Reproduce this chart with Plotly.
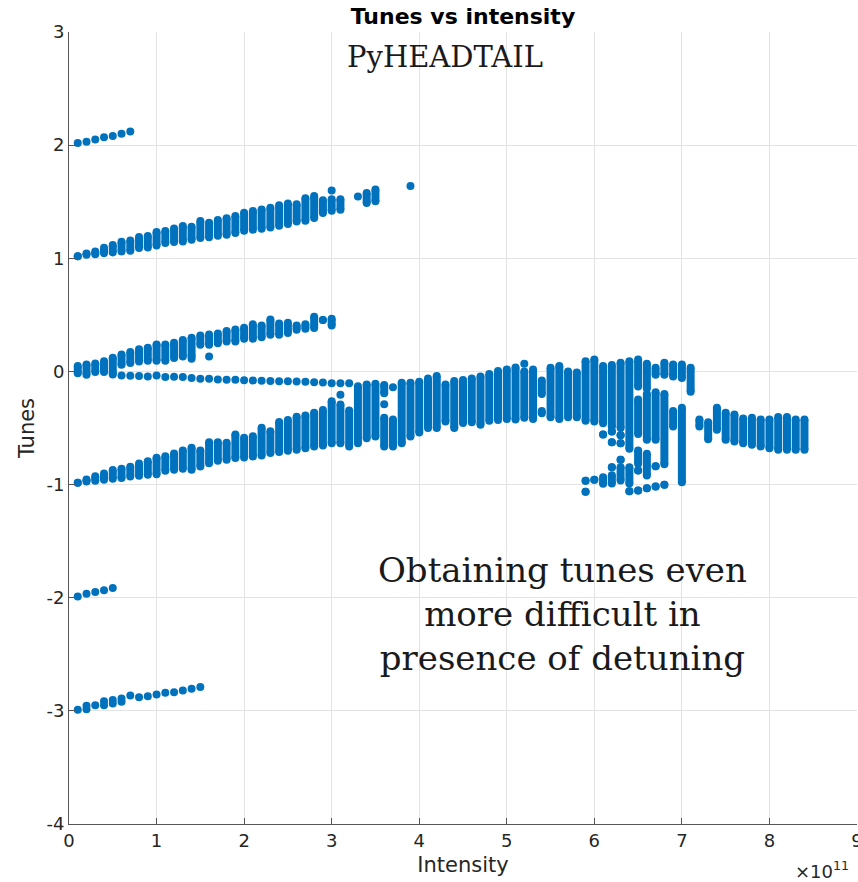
import plotly.graph_objects as go

# Intensity in units of 1e11 protons, tunes in units of the synchrotron tune
# --- Single-line branches (one tune per intensity) ---
I_p2 = [0.1, 0.2, 0.3, 0.4, 0.5, 0.6, 0.7]
Q_p2 = [2.02, 2.03, 2.05, 2.07, 2.08, 2.10, 2.12]

I_m2 = [0.1, 0.2, 0.3, 0.4, 0.5]
Q_m2 = [-1.99, -1.965, -1.95, -1.935, -1.915]

I_m3 = [0.1, 0.2, 0.2, 0.3, 0.4, 0.4, 0.5, 0.5, 0.6, 0.6, 0.7, 0.8, 0.9, 1.0, 1.1, 1.2, 1.3, 1.4, 1.5]
Q_m3 = [-2.99, -2.985, -2.955, -2.95, -2.95, -2.915, -2.935, -2.905, -2.92, -2.89,
        -2.865, -2.88, -2.87, -2.856, -2.84, -2.835, -2.82, -2.805, -2.79]

# slowly falling line just below 0
I_d = [0.5, 0.6, 0.7, 0.8, 0.9, 1.0, 1.1, 1.2, 1.3, 1.4, 1.5, 1.6, 1.7, 1.8,
       1.9, 2.0, 2.1, 2.2, 2.3, 2.4, 2.5, 2.6, 2.7, 2.8, 2.9, 3.0, 3.1, 3.2]
Q_d = [-0.027, -0.035, -0.038, -0.040, -0.044, -0.035, -0.050, -0.047, -0.050, -0.059,
       -0.065, -0.065, -0.071, -0.074, -0.074, -0.077, -0.080, -0.083, -0.085, -0.086,
       -0.086, -0.089, -0.092, -0.095, -0.098, -0.104, -0.104, -0.104]

# --- Spread branches: lowest and highest tune found at each intensity ---
I_b1 = [0.1, 0.2, 0.3, 0.4, 0.5, 0.6, 0.7, 0.8, 0.9, 1.0, 1.1, 1.2, 1.3, 1.4, 1.5, 1.6,
        1.7, 1.8, 1.9, 2.0, 2.1, 2.2, 2.3, 2.4, 2.5, 2.6, 2.7, 2.8, 2.9, 3.0, 3.1, 3.4, 3.5]
lo_b1 = [1.017, 1.032, 1.035, 1.046, 1.052, 1.061, 1.067, 1.090, 1.096, 1.114, 1.135,
         1.144, 1.149, 1.164, 1.179, 1.185, 1.200, 1.209, 1.223, 1.244, 1.253, 1.262,
         1.273, 1.288, 1.303, 1.326, 1.332, 1.356, 1.400, 1.421, 1.430, 1.488, 1.503]
hi_b1 = [1.017, 1.043, 1.061, 1.094, 1.117, 1.147, 1.158, 1.188, 1.196, 1.232, 1.241,
         1.264, 1.285, 1.279, 1.329, 1.315, 1.338, 1.353, 1.373, 1.403, 1.418, 1.432,
         1.447, 1.468, 1.485, 1.477, 1.530, 1.550, 1.512, 1.521, 1.521, 1.576, 1.607]

I_b0 = [0.1, 0.2, 0.3, 0.4, 0.5, 0.6, 0.7, 0.8, 0.9, 1.0, 1.1, 1.2, 1.3, 1.4, 1.5,
        1.6, 1.7, 1.8, 1.9, 2.0, 2.1, 2.2, 2.3, 2.4, 2.5, 2.6, 2.7, 2.8, 2.9, 3.0]
lo_b0 = [-0.015, -0.029, -0.006, -0.006, -0.015, 0.059, 0.074, 0.088, 0.094, 0.094,
         0.094, 0.118, 0.133, 0.133, 0.236, 0.236, 0.250, 0.265, 0.265, 0.289, 0.289,
         0.301, 0.324, 0.324, 0.339, 0.369, 0.377, 0.383, 0.454, 0.407]
hi_b0 = [0.047, 0.062, 0.071, 0.091, 0.121, 0.150, 0.171, 0.195, 0.210, 0.239, 0.239,
         0.253, 0.277, 0.298, 0.318, 0.327, 0.336, 0.357, 0.371, 0.386, 0.416, 0.407,
         0.460, 0.424, 0.430, 0.407, 0.416, 0.484, 0.454, 0.466]

I_m1 = [0.1, 0.2, 0.3, 0.4, 0.5, 0.6, 0.7, 0.8, 0.9, 1.0, 1.1, 1.2, 1.3, 1.4, 1.5,
        1.6, 1.7, 1.8, 1.9, 2.0, 2.1, 2.2, 2.3, 2.4, 2.5, 2.6, 2.7, 2.8, 2.9, 3.0,
        3.1, 3.2, 3.3, 3.4, 3.5, 3.6, 3.6, 3.7, 3.8, 3.9, 4.0, 4.1, 4.2, 4.3, 4.4,
        4.5, 4.6, 4.7, 4.8, 4.9, 5.0, 5.1, 5.2, 5.3, 5.4, 5.4, 5.5, 5.6, 5.7, 5.8,
        5.9, 6.0, 6.1, 6.2, 6.3, 6.4, 6.5, 6.5, 6.6, 6.6, 6.7, 6.7, 6.8, 6.8, 6.9,
        6.9, 7.0, 7.0, 7.1, 7.2, 7.3, 7.4, 7.5, 7.6, 7.7, 7.8, 7.9, 8.0, 8.1, 8.2,
        8.3, 8.4]
lo_m1 = [-0.984, -0.973, -0.966, -0.958, -0.949, -0.943, -0.928, -0.922, -0.913, -0.908,
         -0.878, -0.869, -0.860, -0.869, -0.840, -0.811, -0.790, -0.781, -0.766, -0.760,
         -0.752, -0.743, -0.722, -0.713, -0.701, -0.692, -0.678, -0.663, -0.654, -0.634,
         -0.634, -0.663, -0.634, -0.590, -0.575, -0.192, -0.663, -0.663, -0.634, -0.575,
         -0.540, -0.500, -0.500, -0.442, -0.500, -0.455, -0.450, -0.472, -0.435, -0.430,
         -0.420, -0.425, -0.410, -0.420, -0.200, -0.370, -0.405, -0.420, -0.405, -0.405,
         -0.435, -0.442, -0.457, -0.490, -0.500, -0.684, -0.133, -0.554, -0.150, -0.604,
         -0.030, -0.604, -0.030, -0.820, -0.045, -0.486, -0.059, -0.979, -0.180, -0.486,
         -0.600, -0.516, -0.604, -0.619, -0.634, -0.648, -0.663, -0.678, -0.693, -0.693,
         -0.693, -0.693]
hi_m1 = [-0.984, -0.955, -0.926, -0.902, -0.872, -0.860, -0.843, -0.813, -0.793, -0.763,
         -0.749, -0.725, -0.698, -0.675, -0.698, -0.625, -0.625, -0.631, -0.557, -0.586,
         -0.572, -0.498, -0.528, -0.448, -0.430, -0.401, -0.389, -0.365, -0.342, -0.263,
         -0.292, -0.345, -0.130, -0.115, -0.109, -0.121, -0.410, -0.424, -0.100, -0.100,
         -0.091, -0.062, -0.041, -0.115, -0.085, -0.075, -0.062, -0.045, -0.022, 0.003,
         0.018, 0.035, 0.000, 0.018, -0.080, -0.350, 0.032, 0.047, 0.000, -0.010,
         0.091, 0.106, 0.047, 0.056, 0.077, 0.091, 0.106, -0.248, 0.068, -0.200,
         0.032, -0.185, 0.077, -0.200, 0.062, -0.350, 0.062, -0.320, 0.032, -0.424,
         -0.450, -0.320, -0.365, -0.380, -0.416, -0.410, -0.424, -0.424, -0.403, -0.403,
         -0.424, -0.424]

# detached group near -1 at high intensity
I_low = [5.9, 5.9, 6.0, 6.1, 6.1, 6.2, 6.2, 6.2, 6.2, 6.3, 6.3, 6.3, 6.3,
         6.4, 6.4, 6.5, 6.5, 6.5, 6.6, 6.6, 6.7, 6.7, 6.8]
lo_low = [-1.064, -0.967, -0.958, -0.993, -0.557, -0.990, -0.846, -0.625, -0.530,
          -0.963, -0.781, -0.635, -0.565, -0.990, -1.058, -0.816, -0.875, -1.052,
          -0.920, -1.032, -0.837, -1.017, -1.002]
hi_low = [-1.064, -0.967, -0.958, -0.935, -0.557, -0.917, -0.846, -0.625, -0.530,
          -0.846, -0.781, -0.635, -0.565, -0.846, -1.058, -0.698, -0.875, -1.052,
          -0.728, -1.032, -0.837, -1.017, -1.002]

# isolated points
I_dot = [3.0, 3.3, 3.9, 1.6, 1.4, 3.1, 3.6, 3.7, 5.2]
Q_dot = [1.600, 1.547, 1.638, 0.133, 0.112, -0.206, -0.290, -0.140, 0.068]

# axis ticks
x_ticks = [0, 1, 2, 3, 4, 5, 6, 7, 8, 9]
y_ticks = [-4, -3, -2, -1, 0, 1, 2, 3]

BLUE = "#0072BD"
MS = 8


def columns(I, lo, hi):
    xs, ys = [], []
    for i, a, b in zip(I, lo, hi):
        xs += [i, i, None]
        ys += [a, b, None]
    return xs, ys


fig = go.Figure()

for I, lo, hi in [(I_b1, lo_b1, hi_b1), (I_b0, lo_b0, hi_b0),
                  (I_m1, lo_m1, hi_m1), (I_low, lo_low, hi_low)]:
    xs, ys = columns(I, lo, hi)
    fig.add_trace(go.Scatter(
        x=xs, y=ys, mode="lines+markers",
        line=dict(color=BLUE, width=MS),
        marker=dict(color=BLUE, size=MS, line=dict(width=0)),
        hoverinfo="skip",
    ))

for I, Q in [(I_p2, Q_p2), (I_m2, Q_m2), (I_m3, Q_m3), (I_d, Q_d), (I_dot, Q_dot)]:
    fig.add_trace(go.Scatter(
        x=I, y=Q, mode="markers",
        marker=dict(color=BLUE, size=MS, line=dict(width=0)),
    ))

AX = "#555555"
TXT = "#262626"
GRID = "#e3e3e3"
FONT = "DejaVu Sans"

axis_common = dict(
    showline=True, linecolor=AX, linewidth=1, mirror=False,
    ticks="inside", ticklen=6, tickcolor=AX, tickwidth=1,
    showgrid=True, gridcolor=GRID, gridwidth=1, zeroline=False,
    tickfont=dict(family=FONT, size=18, color=TXT),
    ticklabeloverflow="allow", automargin=False,
)

fig.update_layout(
    width=858, height=882,
    margin=dict(l=69, r=1, t=32, b=58),
    paper_bgcolor="white", plot_bgcolor="white",
    showlegend=False,
    title=dict(text="<b>Tunes vs intensity</b>", xref="paper", x=0.5, xanchor="center",
               yref="container", y=1 - 16 / 882, yanchor="middle",
               font=dict(family=FONT, size=22, color="#000000")),
    xaxis=dict(range=[0, 9], tickvals=x_ticks, ticktext=[str(v) for v in x_ticks],
               title=dict(text="Intensity", font=dict(family=FONT, size=21, color=TXT), standoff=7),
               **axis_common),
    yaxis=dict(range=[-4, 3], tickvals=y_ticks, ticktext=[str(v) for v in y_ticks],
               title=dict(text="Tunes", font=dict(family=FONT, size=21, color=TXT), standoff=6),
               **axis_common),
    annotations=[
        dict(text="PyHEADTAIL", xref="paper", yref="paper", x=0.477, y=0.969,
             xanchor="center", yanchor="middle", showarrow=False,
             font=dict(family="DejaVu Serif", size=29, color="#1a1a1a")),
        dict(text="Obtaining tunes even<br>more difficult in<br>presence of detuning",
             xref="paper", yref="paper", x=0.626, y=0.265,
             xanchor="center", yanchor="middle", showarrow=False, align="center",
             font=dict(family="DejaVu Serif", size=34, color="#1a1a1a")),
        dict(text="\u00d710<sup>11</sup>", xref="paper", yref="paper", x=0.992, y=-0.058,
             xanchor="right", yanchor="middle", showarrow=False,
             font=dict(family=FONT, size=18, color=TXT)),
    ],
)

fig.write_html("out.html")
